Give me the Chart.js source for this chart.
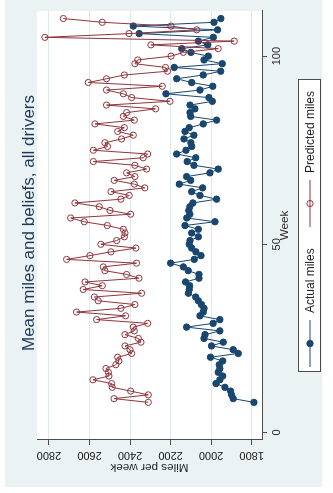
<!DOCTYPE html>
<html>
<head>
<meta charset="utf-8">
<script src="https://cdn.jsdelivr.net/npm/chart.js@4/dist/chart.umd.min.js"></script>
<style>
  html, body { margin: 0; padding: 0; background: #ffffff; }
  #page { position: relative; width: 333px; height: 493px; overflow: hidden; background: #ffffff; }
  /* the graph is laid out landscape and turned a quarter turn counter-clockwise */
  #turn { position: absolute; left: 0; top: 0; width: 493px; height: 333px;
          transform-origin: 0 0; transform: translate(0, 493px) rotate(-90deg); }
  #region { position: absolute; left: 6px; top: 5px; width: 487px; height: 317px; background: #eaf2f3; }
  #c { position: absolute; left: 0; top: 0; }
</style>
</head>
<body>
<div id="page"><div id="turn"><div id="region"></div><canvas id="c" width="493" height="333"></canvas></div></div>
<script>
const titleText = 'Mean miles and beliefs, all drivers';
const weekTitle = 'Week';
const milesTitle = 'Miles per week';
const seriesNames = ['Actual miles', 'Predicted miles'];

const weeks = [
  8, 9, 10, 11, 12, 13, 14, 15, 16, 17,
  18, 19, 20, 21, 22, 23, 24, 25, 26, 27,
  28, 29, 30, 31, 32, 33, 34, 35, 36, 37,
  38, 39, 40, 41, 42, 43, 44, 45, 46, 47,
  48, 49, 50, 51, 52, 53, 54, 55, 56, 57,
  58, 59, 60, 61, 62, 63, 64, 65, 66, 67,
  68, 69, 70, 71, 72, 73, 74, 75, 76, 77,
  78, 79, 80, 81, 82, 83, 84, 85, 86, 87,
  88, 89, 90, 91, 92, 93, 94, 95, 96, 97,
  98, 99, 100, 101, 102, 103, 104, 105, 106, 107,
  108, 109, 110
];

const actualMiles = [
  1789, 1891, 1899, 1904, 1932, 1976, 1957, 1943, 1965, 1957,
  1960, 1943, 2003, 1866, 1891, 1998, 1940, 2035, 2030, 1957,
  2121, 1990, 1957, 2055, 2039, 2035, 2048, 2063, 2076, 2112,
  2108, 2106, 2126, 2060, 2060, 2113, 2137, 2200, 2083, 2050,
  2075, 2096, 2108, 2104, 2063, 2096, 2063, 2129, 1981, 2120,
  2105, 2110, 2105, 2090, 1973, 2055, 2096, 2042, 2157, 2101,
  2121, 2006, 1965, 2085, 2118, 2076, 2170, 2124, 2096, 2100,
  2134, 2085, 2129, 2108, 2039, 1973, 2101, 2104, 2080, 2104,
  1994, 2011, 2223, 2055, 1992, 2096, 2170, 2039, 1953, 2182,
  1945, 2035, 2014, 2100, 2145, 2017, 2063, 1989, 2355, 1968,
  2384, 1986, 1952
];

const predictedMiles = [
  2310, 2479, 2310, 2397, 2488, 2491, 2583, 2504, 2507, 2519,
  2470, 2455, 2461, 2392, 2400, 2425, 2346, 2359, 2425, 2379,
  2384, 2313, 2565, 2422, 2664, 2445, 2376, 2557, 2576, 2343,
  2631, 2537, 2622, 2356, 2417, 2524, 2532, 2368, 2713, 2598,
  2494, 2371, 2544, 2466, 2428, 2425, 2433, 2512, 2626, 2693,
  2397, 2499, 2552, 2672, 2445, 2404, 2494, 2327, 2379, 2478,
  2376, 2417, 2318, 2376, 2581, 2335, 2313, 2581, 2511, 2524,
  2442, 2384, 2461, 2428, 2573, 2379, 2433, 2417, 2274, 2516,
  2203, 2392, 2433, 2516, 2241, 2606, 2516, 2428, 2215, 2225,
  2376, 2362, 2198, 2137, 1965, 2297, 1886, 2820, 2405, 2071,
  2198, 2537, 2729
];

const weekTicks = [0, 50, 100];
const mileTicks = [1800, 2000, 2200, 2400, 2600, 2800];

const NAVY = '#1a476f';
const MAROON = '#90353b';
const AXIS = '#4d4d4d';
const TEXT = '#1f1f1f';
const FONT = '"Liberation Sans", Arial, Helvetica, sans-serif';

const pairs = vals => weeks.map((w, i) => ({ x: w, y: vals[i] }));
const plain = v => String(v);

// white plot region, then title and boxed legend on top
const decorations = {
  id: 'decorations',
  beforeDraw(chart) {
    const { ctx, chartArea: a } = chart;
    ctx.save();
    ctx.fillStyle = '#ffffff';
    ctx.fillRect(a.left, a.top, a.right - a.left, a.bottom - a.top);
    ctx.restore();
  },
  afterDraw(chart) {
    const ctx = chart.ctx;
    ctx.save();
    ctx.fillStyle = '#1e3a5a';
    ctx.font = '17px ' + FONT;
    ctx.textAlign = 'center';
    ctx.textBaseline = 'alphabetic';
    ctx.fillText(titleText, 270, 33.5);

    // legend frame
    ctx.fillStyle = '#ffffff';
    ctx.fillRect(121, 298, 292, 22);
    ctx.strokeStyle = AXIS;
    ctx.lineWidth = 1;
    ctx.strokeRect(121.5, 298.5, 292, 22);

    const keyStart = [126, 266];
    const keyLen = 47;
    const rowY = 310;
    chart.data.datasets.forEach((ds, i) => {
      const x0 = keyStart[i];
      ctx.strokeStyle = ds.borderColor;
      ctx.lineWidth = 1;
      ctx.beginPath();
      ctx.moveTo(x0, rowY);
      ctx.lineTo(x0 + keyLen, rowY);
      ctx.stroke();
      ctx.beginPath();
      ctx.arc(x0 + keyLen / 2, rowY, ds.pointRadius, 0, Math.PI * 2);
      if (ds.pointBackgroundColor !== 'transparent') {
        ctx.fillStyle = ds.pointBackgroundColor;
        ctx.fill();
      }
      ctx.strokeStyle = ds.pointBorderColor;
      ctx.lineWidth = ds.pointBorderWidth;
      ctx.stroke();
      ctx.fillStyle = TEXT;
      ctx.font = '12px ' + FONT;
      ctx.textAlign = 'left';
      ctx.textBaseline = 'alphabetic';
      ctx.fillText(ds.label, x0 + keyLen + 7, 314);
    });
    ctx.restore();
  }
};

new Chart(document.getElementById('c'), {
  type: 'line',
  data: {
    datasets: [
      {
        label: seriesNames[0],
        data: pairs(actualMiles),
        borderColor: NAVY,
        borderWidth: 1,
        pointRadius: 3.2,
        pointBackgroundColor: NAVY,
        pointBorderColor: NAVY,
        pointBorderWidth: 1,
        tension: 0,
        order: 2
      },
      {
        label: seriesNames[1],
        data: pairs(predictedMiles),
        borderColor: MAROON,
        borderWidth: 1,
        pointRadius: 3.1,
        pointBackgroundColor: 'transparent',
        pointBorderColor: MAROON,
        pointBorderWidth: 1,
        tension: 0,
        order: 1
      }
    ]
  },
  options: {
    responsive: false,
    animation: false,
    devicePixelRatio: 1,
    layout: { padding: { top: 37, right: 11, bottom: 0, left: 0 } },
    plugins: { legend: { display: false }, title: { display: false }, tooltip: { enabled: false } },
    scales: {
      x: {
        type: 'linear',
        position: 'bottom',
        min: -2,
        max: 112,
        afterBuildTicks: s => { s.ticks = weekTicks.map(v => ({ value: v })); },
        afterFit: s => { s.height = 71; },
        ticks: { color: TEXT, font: { size: 11, family: FONT }, padding: 3, maxRotation: 0, autoSkip: false,
                 callback: plain },
        grid: { drawOnChartArea: false, drawTicks: true, tickLength: 5, tickColor: AXIS, tickWidth: 1 },
        border: { display: true, color: AXIS, width: 1 },
        title: { display: true, text: weekTitle, color: TEXT, font: { size: 11.7, family: FONT },
                 padding: { top: 0, bottom: 41 } }
      },
      y: {
        type: 'linear',
        position: 'left',
        min: 1749,
        max: 2859,
        afterBuildTicks: s => { s.ticks = mileTicks.map(v => ({ value: v })); },
        afterFit: s => { s.width = 53; },
        ticks: { color: TEXT, font: { size: 11, family: FONT }, padding: -2, minRotation: 90, maxRotation: 90,
                 crossAlign: 'center', autoSkip: false, callback: plain },
        grid: { color: '#dfe9ed', lineWidth: 1, drawTicks: true, tickLength: 5, tickColor: AXIS, tickWidth: 1 },
        border: { display: true, color: AXIS, width: 1 },
        title: { display: true, text: milesTitle, color: TEXT, font: { size: 11.7, family: FONT },
                 padding: { top: 19, bottom: 0 } }
      }
    }
  },
  plugins: [decorations]
});
</script>
</body>
</html>
